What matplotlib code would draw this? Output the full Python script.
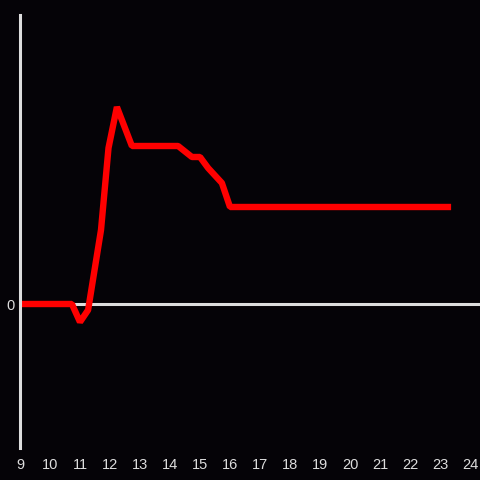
import matplotlib
matplotlib.use("Agg")
import matplotlib.pyplot as plt

# values (y in arbitrary units, zero = baseline)
hours = [9, 10.73, 11.0, 11.27, 11.7, 11.95, 12.23, 12.73, 14.27, 14.73, 15.0, 15.27, 15.73, 16.0, 23.37]
values = [0, 0, -18, -6, 74, 156, 197, 158, 158, 147, 147, 136, 121, 97, 97]
xticks = list(range(9, 25))

bg = "#050307"
fg = "#dddddd"

plt.rcParams['font.family'] = ['Liberation Sans', 'DejaVu Sans']

fig = plt.figure(figsize=(4.8, 4.8), dpi=100, facecolor=bg)
ax = fig.add_axes([20 / 480, 32 / 480, 460 / 480, 433 / 480], facecolor=bg)

ax.axhline(0, color=fg, lw=2.2, zorder=1)
ax.plot(hours, values, color="#ff0000", lw=4.6, solid_joinstyle="bevel", solid_capstyle="butt", zorder=2)

ax.set_xlim(9, 24 + 10 / 30)
ax.set_ylim(-144, 289)
ax.set_xticks(xticks)
ax.set_xticklabels([str(t) for t in xticks])
ax.set_yticks([0])
ax.set_yticklabels(["0"])
ax.tick_params(axis="both", length=0, colors=fg, labelsize=10.5)
ax.tick_params(axis="x", pad=7)
ax.tick_params(axis="y", pad=4)

for side in ["top", "right", "bottom"]:
    ax.spines[side].set_visible(False)
ax.spines["left"].set_color(fg)
ax.spines["left"].set_linewidth(2.2)

fig.savefig("out.png", dpi=100, facecolor=bg)
